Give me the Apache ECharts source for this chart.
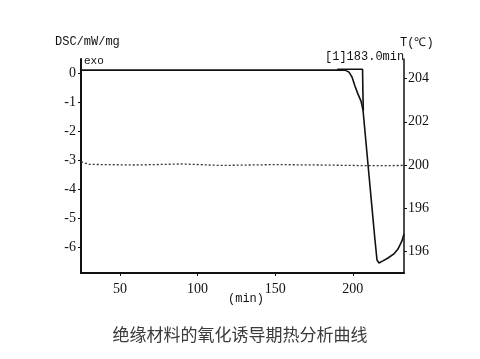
<!DOCTYPE html>
<html><head><meta charset="utf-8">
<script src="https://cdn.jsdelivr.net/npm/echarts@6/dist/echarts.min.js"></script>
<style>html,body{margin:0;padding:0;background:#fff}#c{width:480px;height:359px}</style>
</head><body><div id="c"></div>
<script>
// DSC curve (time in min, heat flow mW/mg)
var dscTime = [25, 60, 100, 150, 195, 197.6, 199.5, 201.4, 203.3, 205.3, 206.6, 208.6, 210.4, 212.3, 214.2, 215.6, 216.9, 219.4, 222.7, 226.5, 229.1, 231.7, 233];
var dscValue = [0.1, 0.1, 0.1, 0.1, 0.1, 0.03, -0.14, -0.45, -0.72, -0.97, -1.28, -2.45, -3.5, -4.6, -5.7, -6.45, -6.55, -6.48, -6.38, -6.24, -6.07, -5.79, -5.55];
// onset construction line
var onsetTime = [190, 206.3, 206.5, 206.8];
var onsetValue = [0.13, 0.13, -0.6, -1.3];
// temperature (dotted, right axis)
var tempTime = [25, 30, 60, 90, 115, 150, 180, 210, 233];
var tempValue = [200.15, 200.03, 200.0, 200.05, 199.98, 200.02, 200.0, 199.97, 199.98];
// tick labels
var xTicks = [50, 100, 150, 200];
var yLeftTicks = [-6, -5, -4, -3, -2, -1, 0];
var yRightTicks = [196, 198, 200, 202, 204];
var yRightLabels = ['196', '196', '200', '202', '204'];

function pairs(a, b) { return a.map(function (v, i) { return [v, b[i]]; }); }

var mono = 'Liberation Mono';
var serif = 'Liberation Serif';
var chart = echarts.init(document.getElementById('c'));
chart.setOption({
  animation: false,
  backgroundColor: '#fff',
  title: {
    text: '绝缘材料的氧化诱导期热分析曲线',
    left: 'center', top: 321,
    textStyle: { fontFamily: 'Noto Sans CJK SC', fontSize: 17, fontWeight: 'normal', color: '#3a3a3a' }
  },
  grid: { left: 81, right: 76, top: 59, bottom: 86 },
  xAxis: {
    type: 'value', min: 24.9, max: 233,
    axisLine: { onZero: false, lineStyle: { color: '#111', width: 2 } },
    axisTick: { customValues: xTicks, length: 3, lineStyle: { color: '#111' } },
    axisLabel: { customValues: xTicks, margin: 9, color: '#111', fontFamily: serif, fontSize: 14 },
    splitLine: { show: false }
  },
  yAxis: [{
    type: 'value', min: -6.897, max: 0.483, position: 'left',
    axisLine: { show: true, onZero: false, lineStyle: { color: '#111', width: 2 } },
    axisTick: { show: true, customValues: yLeftTicks, length: 3, lineStyle: { color: '#111' } },
    axisLabel: { customValues: yLeftTicks, margin: 5, color: '#111', fontFamily: serif, fontSize: 14,
      formatter: function (v) { return String(v); } },
    splitLine: { show: false }
  }, {
    type: 'value', min: 195.01, max: 204.9, position: 'right',
    axisLine: { show: true, onZero: false, lineStyle: { color: '#111', width: 1.5 } },
    axisTick: { show: true, customValues: yRightTicks, length: 3, lineStyle: { color: '#111' } },
    axisLabel: { customValues: yRightTicks, margin: 4, color: '#111', fontFamily: serif, fontSize: 14,
      formatter: function (v) { var i = yRightTicks.indexOf(Math.round(v)); return i >= 0 ? yRightLabels[i] : ''; } },
    splitLine: { show: false }
  }],
  graphic: [
    { type: 'text', left: 55, top: 36, style: { text: 'DSC/mW/mg', font: '12px "' + mono + '"', fill: '#111' } },
    { type: 'text', left: 84, top: 56, style: { text: 'exo', font: '11px "' + mono + '"', fill: '#111' } },
    { type: 'text', left: 325, top: 51, style: { text: '[1]183.0min', font: '12px "' + mono + '"', fill: '#111' } },
    { type: 'text', left: 400, top: 37, style: { text: 'T(℃)', font: '12px "' + mono + '"', fill: '#111' } },
    { type: 'text', left: 228, top: 293, style: { text: '(min)', font: '12px "' + mono + '"', fill: '#111' } }
  ],
  series: [{
    type: 'line', yAxisIndex: 0, data: pairs(dscTime, dscValue), showSymbol: false, smooth: false,
    lineStyle: { color: '#111', width: 1.6 }
  }, {
    type: 'line', yAxisIndex: 0, data: pairs(onsetTime, onsetValue), showSymbol: false,
    lineStyle: { color: '#111', width: 1.6 }
  }, {
    type: 'line', yAxisIndex: 1, data: pairs(tempTime, tempValue), showSymbol: false,
    lineStyle: { color: '#333', width: 1.3, type: [2, 2] }
  }]
});
</script></body></html>
